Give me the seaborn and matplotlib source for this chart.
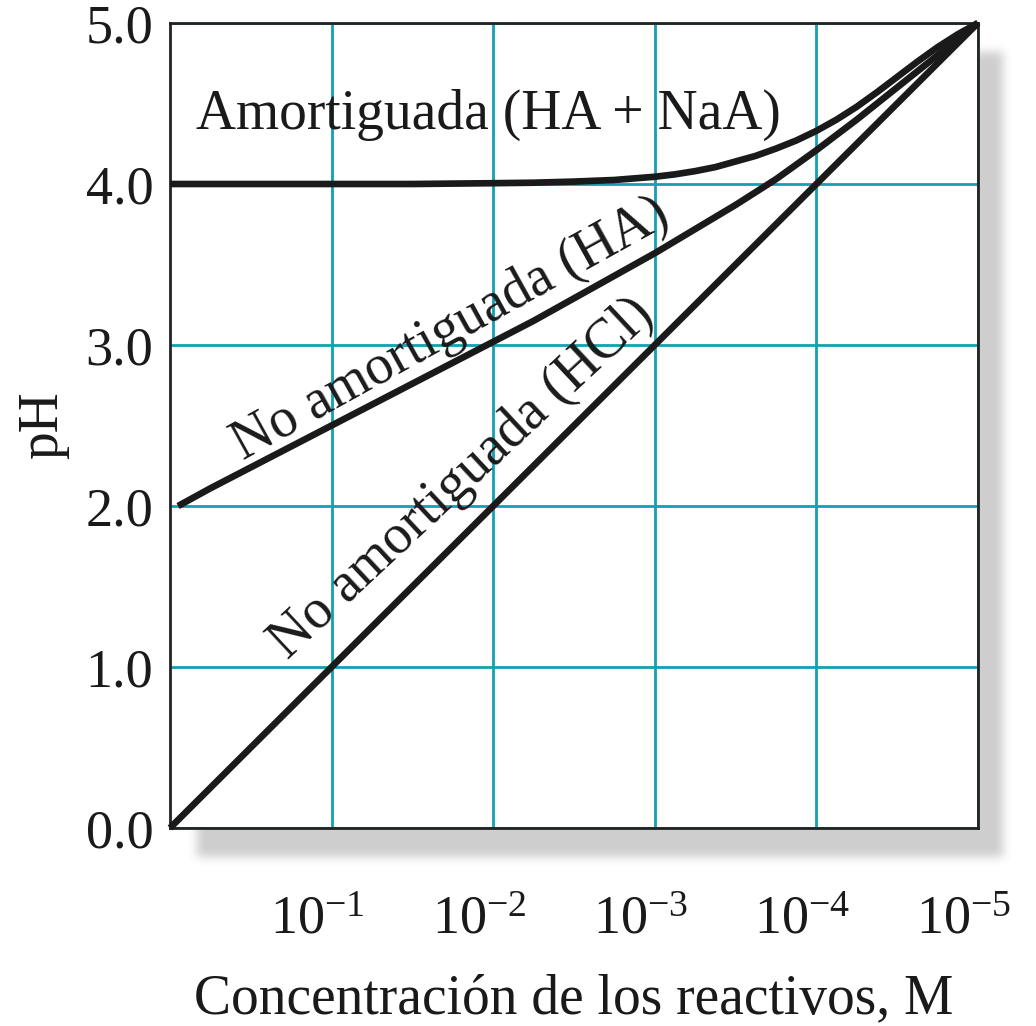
import numpy as np
import pandas as pd
import matplotlib
matplotlib.use("Agg")
import matplotlib.pyplot as plt
import matplotlib.transforms as mtransforms
import seaborn as sns
from matplotlib.ticker import FixedLocator, NullLocator

# ---- data ----
# pC = -log10(concentration, M)
pc_hcl = [0.0, 1.0, 2.0, 3.0, 4.0, 5.0]
ph_hcl = [0.0, 1.0, 2.0, 3.0, 4.0, 5.0]

pc_ha = [0.05, 0.25, 0.5, 0.75, 1.0, 1.25, 1.5, 1.75, 2.0, 2.25, 2.5,
         2.75, 3.0, 3.25, 3.5, 3.75, 4.0, 4.25, 4.5, 4.75, 5.0]
ph_ha = [2.00, 2.11, 2.24, 2.37, 2.50, 2.63, 2.76, 2.89, 3.02, 3.15, 3.29,
         3.43, 3.57, 3.72, 3.87, 4.03, 4.21, 4.40, 4.60, 4.80, 5.00]

pc_buf = [0.0, 0.5, 1.0, 1.5, 2.0, 2.25, 2.5, 2.75, 3.0, 3.125, 3.25, 3.375,
          3.5, 3.625, 3.75, 3.875, 4.0, 4.125, 4.25, 4.375, 4.5, 4.625,
          4.75, 4.875, 5.0]
ph_buf = [4.00, 4.00, 4.00, 4.00, 4.005, 4.008, 4.015, 4.025, 4.045, 4.06,
          4.08, 4.105, 4.14, 4.175, 4.22, 4.27, 4.33, 4.40, 4.48, 4.57,
          4.665, 4.76, 4.85, 4.93, 5.00]

x_tick_exps = [1, 2, 3, 4, 5]
x_tick_labels = [r"$10^{-1}$", r"$10^{-2}$", r"$10^{-3}$", r"$10^{-4}$", r"$10^{-5}$"]
y_ticks = [0, 1, 2, 3, 4, 5]
y_tick_labels = ["0.0", "1.0", "2.0", "3.0", "4.0", "5.0"]

label_buf = "Amortiguada (HA + NaA)"
label_ha = "No amortiguada (HA)"
label_hcl = "No amortiguada (HCl)"
x_title = "Concentración de los reactivos, M"
y_title = "pH"

# ---- style ----
sns.set_theme(style="white")
plt.rcParams["font.family"] = ["Liberation Serif", "DejaVu Serif"]
plt.rcParams["mathtext.fontset"] = "custom"
plt.rcParams["mathtext.rm"] = "Liberation Serif"
plt.rcParams["mathtext.it"] = "Liberation Serif:italic"

W, H = 1036, 1026
fig = plt.figure(figsize=(W / 100, H / 100), dpi=100)
fig.patch.set_facecolor("white")

# soft drop shadow behind the plot box
alpha = np.zeros((H, W))
alpha[52:857, 197:1003] = 1.0
def box_blur(a, r, axis):
    k = np.ones(2 * r + 1) / (2 * r + 1)
    return np.apply_along_axis(lambda v: np.convolve(v, k, mode="same"), axis, a)
for _ in range(3):
    alpha = box_blur(alpha, 4, 0)
    alpha = box_blur(alpha, 4, 1)
img = np.zeros((H, W, 4))
img[..., :3] = 0.5
img[..., 3] = alpha * 0.38
fig.figimage(img, xo=0, yo=0, origin="upper", zorder=-5)

left, right, top, bottom = 170, 978, 23, 828
ax = fig.add_axes([left / W, 1 - bottom / H, (right - left) / W, (bottom - top) / H])
ax.set_facecolor("white")
ax.set_zorder(1)

line_color = "#1a1a1a"
for pcs, phs in [(pc_buf, ph_buf), (pc_ha, ph_ha), (pc_hcl, ph_hcl)]:
    df = pd.DataFrame({"conc": 10.0 ** (-np.array(pcs)), "pH": phs})
    sns.lineplot(data=df, x="conc", y="pH", ax=ax, color=line_color,
                 linewidth=4.8, sort=False, clip_on=False, zorder=3,
                 solid_capstyle="butt")

ax.set_xscale("log")
ax.set_xlim(1.0, 1e-5)
ax.set_ylim(0, 5)

ax.xaxis.set_major_locator(FixedLocator([10.0 ** (-e) for e in x_tick_exps]))
ax.xaxis.set_minor_locator(NullLocator())
ax.set_xticklabels(x_tick_labels)
ax.set_yticks(y_ticks)
ax.set_yticklabels(y_tick_labels)
ax.tick_params(axis="both", length=0, labelsize=39, colors="#1a1a1a")
ax.tick_params(axis="x", pad=48)
ax.tick_params(axis="y", pad=12)
shift = mtransforms.ScaledTranslation(-14 / 100, 0, fig.dpi_scale_trans)
for lab in ax.get_xticklabels():
    lab.set_transform(lab.get_transform() + shift)

ax.grid(True, color="#12a0b2", linewidth=2.0)
ax.set_axisbelow(True)
for s in ax.spines.values():
    s.set_visible(True)
    s.set_color("#222222")
    s.set_linewidth(2.0)

ax.set_xlabel(x_title, fontsize=40, labelpad=20, color="#1a1a1a")
ax.set_ylabel(y_title, fontsize=40, labelpad=12, color="#1a1a1a")

ax.text(10 ** -1.97, 4.43, label_buf, fontsize=40, ha="center", va="center",
        color="#1a1a1a", zorder=4)
ax.text(10 ** -1.74, 3.10, label_ha, fontsize=40, ha="center", va="center",
        rotation=29, rotation_mode="anchor", color="#1a1a1a", zorder=4)
ax.text(10 ** -1.81, 2.17, label_hcl, fontsize=40, ha="center", va="center",
        rotation=43, rotation_mode="anchor", color="#1a1a1a", zorder=4)

fig.savefig("out.png", dpi=100)
